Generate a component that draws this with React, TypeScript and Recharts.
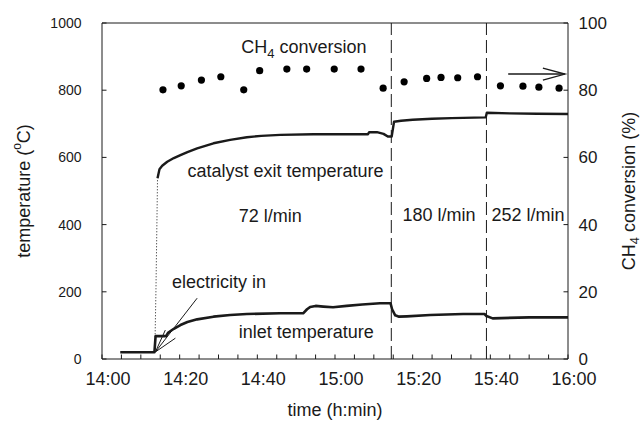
import React from "react";
import {
  ComposedChart,
  Line,
  Scatter,
  XAxis,
  YAxis,
  ReferenceLine,
  ReferenceArea,
  ReferenceDot,
} from "recharts";

const FONT = '"Liberation Sans", Arial, Helvetica, sans-serif';
const INK = "#1a1a1a";

// x values are minutes after 14:00
const timeTicks = [0, 5, 10, 15, 20, 25, 30, 35, 40, 45, 50, 55, 60, 65, 70, 75, 80, 85, 90, 95, 100, 105, 110, 115, 120];
const timeLabels: Record<number, string> = { 0: "14:00", 20: "14:20", 40: "14:40", 60: "15:00", 80: "15:20", 100: "15:40", 120: "16:00" };
const tempTicks = [0, 200, 400, 600, 800, 1000];
const convTicks = [0, 20, 40, 60, 80, 100];

// flow changes (72 -> 180 -> 252 l/min)
const flowSwitches = [74.5, 99];

const exitRise: [number, number][] = [[13.6, 20], [13.9, 210], [14.3, 538]];
const exitTemp: [number, number][] = [
  [14.3, 538], [14.8, 565], [15.5, 575], [16.8, 587], [18.5, 598], [20.2, 607], [22, 616], [24.5, 627],
  [28.7, 642], [33, 652], [37.3, 660], [41, 664], [45.9, 667], [54.4, 669], [62, 669], [68.5, 669],
  [68.8, 675], [70.8, 675], [72.5, 670], [73.6, 662], [74.6, 662], [75.2, 706], [77, 709], [80, 712],
  [85, 715], [90, 717], [98.8, 719], [99.1, 733], [105, 731], [112, 730], [120, 729],
];
const inletTemp: [number, number][] = [
  [4.7, 20], [13.5, 20], [13.8, 68], [16.5, 68], [17, 78], [18.5, 90], [20.2, 101], [22, 110], [24.5, 118],
  [28.7, 126], [33, 131], [37.3, 134], [45.9, 136], [51.8, 136], [52.8, 148], [53.6, 155], [55, 158],
  [57, 156], [59.5, 154], [63, 158], [67, 162], [71.6, 166], [74.3, 166], [74.7, 148], [75.5, 130],
  [76.5, 126], [78.5, 127], [84.5, 131], [93, 134], [98.5, 134], [99, 128], [100.6, 121], [110, 124], [120, 124],
];
const ch4Times = [15.7, 20.4, 25.6, 30.6, 36.5, 40.6, 47.6, 52.7, 59.8, 66.7, 72.4, 77.8, 83.6, 87.3, 91.6, 96.7, 102.6, 108.4, 112.5, 117.7];
const ch4Conv = [80.1, 81.3, 83.0, 84.0, 80.1, 85.8, 86.3, 86.3, 86.3, 86.3, 80.6, 82.5, 83.5, 83.8, 83.7, 84.0, 81.3, 81.2, 80.9, 80.6];

// "electricity in" pointer lines (start/end in t, temperature)
const pointerLines: [number, number, number, number][] = [
  [13.75, 21, 24.5, 181],
  [13.75, 21, 16.3, 86],
  [13.75, 21, 18.9, 62],
];
const arrow = { from: [104.6, 84.8], to: [119.2, 84.8] };

const notes = [
  { id: "ch4", text: "conversion", t: 52, v: 912, anchor: "middle" },
  { id: "exit", text: "catalyst exit temperature", t: 22, v: 542, anchor: "start" },
  { id: "f72", text: "72 l/min", t: 35.2, v: 408, anchor: "start" },
  { id: "f180", text: "180 l/min", t: 77.4, v: 412, anchor: "start" },
  { id: "f252", text: "252 l/min", t: 100.3, v: 412, anchor: "start" },
  { id: "elec", text: "electricity in", t: 18, v: 210, anchor: "start" },
  { id: "inlet", text: "inlet temperature", t: 35.2, v: 62, anchor: "start" },
];

const toRows = (pts: [number, number][]) => pts.map(([t, v]) => ({ t, v }));
const ch4Rows = ch4Times.map((t, i) => ({ t, v: ch4Conv[i] }));

const noteLabel = (n: (typeof notes)[number]) => (p: any) => {
  const vb = p.viewBox || {};
  const x = (vb.x ?? 0) + (vb.width ?? 0) / 2;
  const y = (vb.y ?? 0) + (vb.height ?? 0) / 2;
  return (
    <text x={x} y={y} textAnchor={n.anchor} fontSize={18} fontFamily={FONT} fill={INK}>
      {n.id === "ch4" ? (
        <>
          <tspan>CH</tspan>
          <tspan fontSize={13} dy={5}>4</tspan>
          <tspan dy={-5}> {n.text}</tspan>
        </>
      ) : (
        n.text
      )}
    </text>
  );
};

const ArrowShape = (p: any) => (
  <g stroke={INK} strokeWidth={1.4} fill="none">
    <line x1={p.x1} y1={p.y1} x2={p.x2} y2={p.y2} />
    <polyline points={`${p.x2 - 22},${p.y2 - 6} ${p.x2},${p.y2} ${p.x2 - 22},${p.y2 + 6}`} />
  </g>
);

const Dot = (p: any) => <circle cx={p.cx} cy={p.cy} r={3.6} fill="#000" />;

export default function App() {
  return (
    <div style={{ position: "absolute", left: 0, top: 0, background: "#fff" }}>
      <ComposedChart width={642} height={421} margin={{ top: 23, right: 0, bottom: 0, left: 0 }}>
        <XAxis
          dataKey="t"
          type="number"
          domain={[0, 120]}
          ticks={timeTicks}
          tickFormatter={(t: number) => timeLabels[t] ?? ""}
          height={62}
          axisLine={false}
          tickLine={{ stroke: INK }}
          tickSize={-4.5}
          tickMargin={18}
          tick={{ fontSize: 18, fill: INK, fontFamily: FONT, dx: 6 }}
          interval={0}
          label={(p: any) => {
            const vb = p.viewBox;
            return (
              <text x={vb.x + vb.width / 2} y={416} textAnchor="middle" fontSize={18} fontFamily={FONT} fill={INK}>
                time (h:min)
              </text>
            );
          }}
        />
        <YAxis
          yAxisId="left"
          domain={[0, 1000]}
          ticks={tempTicks}
          width={102}
          axisLine={false}
          tickLine={{ stroke: INK }}
          tickSize={-4.5}
          tickMargin={25}
          tick={{ fontSize: 14, fill: INK, fontFamily: FONT }}
          interval={0}
          label={(p: any) => {
            const vb = p.viewBox;
            const cx = 24;
            const cy = vb.y + vb.height / 2;
            return (
              <text x={cx} y={cy} transform={`rotate(-90, ${cx}, ${cy})`} textAnchor="middle" dominantBaseline="central" fontSize={18} fontFamily={FONT} fill={INK}>
                <tspan>temperature (</tspan>
                <tspan fontSize={12} dy={-7}>o</tspan>
                <tspan dy={7}>C)</tspan>
              </text>
            );
          }}
        />
        <YAxis
          yAxisId="right"
          orientation="right"
          domain={[0, 100]}
          ticks={convTicks}
          width={74}
          axisLine={false}
          tickLine={{ stroke: INK }}
          tickSize={-4.5}
          tickMargin={15}
          tick={{ fontSize: 17, fill: INK, fontFamily: FONT }}
          interval={0}
          label={(p: any) => {
            const vb = p.viewBox;
            const cx = vb.x + 61;
            const cy = vb.y + vb.height / 2;
            return (
              <text x={cx} y={cy} transform={`rotate(-90, ${cx}, ${cy})`} textAnchor="middle" dominantBaseline="central" fontSize={18} fontFamily={FONT} fill={INK}>
                <tspan>CH</tspan>
                <tspan fontSize={13} dy={5}>4</tspan>
                <tspan dy={-5}> conversion (%)</tspan>
              </text>
            );
          }}
        />

        <ReferenceArea yAxisId="left" x1={0} x2={120} y1={0} y2={1000} fill="none" stroke={INK} strokeWidth={1} ifOverflow="visible" />

        {flowSwitches.map((x) => (
          <ReferenceLine key={x} yAxisId="left" x={x} stroke={INK} strokeWidth={1} strokeDasharray="13 5" />
        ))}

        {pointerLines.map(([t1, v1, t2, v2], i) => (
          <ReferenceLine
            key={`ptr-${i}`}
            yAxisId="left"
            segment={[{ x: t1, y: v1 }, { x: t2, y: v2 }]}
            stroke={INK}
            strokeWidth={1}
          />
        ))}

        <ReferenceLine
          yAxisId="right"
          segment={[{ x: arrow.from[0], y: arrow.from[1] }, { x: arrow.to[0], y: arrow.to[1] }]}
          shape={ArrowShape}
        />

        <Line
          yAxisId="left"
          data={toRows(exitRise)}
          dataKey="v"
          stroke={INK}
          strokeWidth={1}
          strokeDasharray="1 2"
          dot={false}
          isAnimationActive={false}
        />
        <Line
          yAxisId="left"
          data={toRows(exitTemp)}
          dataKey="v"
          stroke={INK}
          strokeWidth={2.4}
          strokeLinejoin="round"
          dot={false}
          isAnimationActive={false}
        />
        <Line
          yAxisId="left"
          data={toRows(inletTemp)}
          dataKey="v"
          stroke={INK}
          strokeWidth={2.6}
          strokeLinejoin="round"
          dot={false}
          isAnimationActive={false}
        />
        <Scatter yAxisId="right" data={ch4Rows} dataKey="v" shape={Dot} isAnimationActive={false} />

        {notes.map((n) => (
          <ReferenceDot key={n.id} yAxisId="left" x={n.t} y={n.v} r={0} fill="none" stroke="none" label={noteLabel(n)} />
        ))}
      </ComposedChart>
    </div>
  );
}
